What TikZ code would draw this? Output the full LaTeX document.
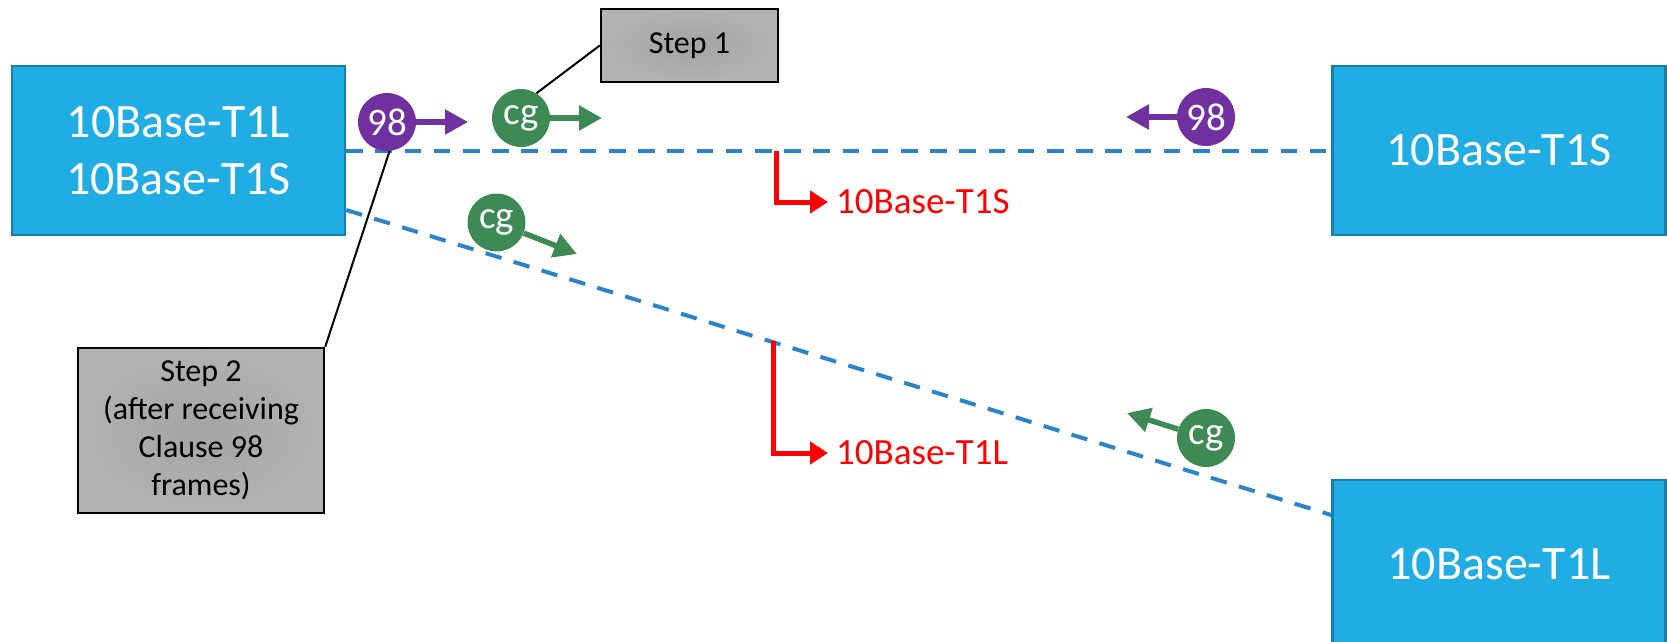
\documentclass[tikz,border=0pt]{standalone}
\usepackage{fontspec}
\setmainfont{Carlito}
\usetikzlibrary{arrows.meta,calc}
\definecolor{boxblue}{RGB}{31,173,228}
\definecolor{boxedge}{RGB}{22,128,172}
\definecolor{dashblue}{RGB}{42,132,204}
\definecolor{cpurple}{RGB}{112,48,160}
\definecolor{cgreen}{RGB}{62,138,84}
\definecolor{cred}{RGB}{255,0,0}
\definecolor{grayin}{RGB}{164,164,164}
\definecolor{grayout}{RGB}{178,178,178}
\begin{document}
\begin{tikzpicture}[x=1pt,y=-1pt,
  phybox/.style={rectangle, fill=boxblue, draw=boxedge, line width=2.5pt,
    minimum width=333pt, minimum height=169pt, inner sep=0pt,
    text=white, font=\fontsize{48}{57}\selectfont, align=center},
  stepbox/.style={rectangle, draw=black, line width=2.5pt, inner sep=0pt,
    inner color=grayin, outer color=grayout,
    font=\fontsize{32}{38}\selectfont, align=center},
  frame/.style={circle, fill=#1, minimum size=58pt, inner sep=0pt,
    text=white, font=\fontsize{39}{42}\selectfont},
  link/.style={draw=dashblue, line width=4pt, dash pattern=on 16.5pt off 12.7pt},
  blockarrow/.style={draw=#1, line width=5.5pt,
    -{Triangle[length=23pt,width=24pt]}},
  redarrow/.style={draw=cred, line width=5pt,
    -{Triangle[length=18pt,width=22pt]}},
  redlabel/.style={text=cred, font=\fontsize{37}{44}\selectfont, inner sep=0pt, anchor=west},
  callout/.style={draw=black, line width=2pt}
]
\useasboundingbox (0,0) rectangle (1667,642);

% PHY boxes
\node[phybox] (L) at (178.5,150.5) {10Base-T1L\\10Base-T1S};
\node[phybox] (R1) at (1499,150.5) {10Base-T1S};
\node[phybox] (R2) at (1499,564.5) {10Base-T1L};

% links
\draw[link] (L.east) -- (R1.west);
\draw[link] ($(L.east)+(0,59.5)$) -- ($(R2.west)+(0,-49.5)$);

% step boxes
\node[stepbox, minimum width=177pt, minimum height=73pt] (S1) at (689.5,45.5) {Step 1};
\node[stepbox, minimum width=246pt, minimum height=165pt] (S2) at (201,430.5)
  {Step 2\\(after receiving\\Clause 98\\frames)};

% frame markers
\node[frame=cpurple] (p1) at (387,122) {98};
\node[frame=cgreen] (g1) at (521,118) {cg};
\node[frame=cpurple] (p2) at (1206,117) {98};
\node[frame=cgreen] (g2) at (496.5,222.5) {cg};
\node[frame=cgreen] (g3) at (1206,438) {cg};

\coordinate (p1t) at (468,122);
\coordinate (g1t) at (602,118);
\coordinate (p2t) at (1126,117);
\coordinate (g2t) at (577,254);
\coordinate (g3t) at (1127,413);

\draw[blockarrow=cpurple] (p1.east) -- (p1t);
\draw[blockarrow=cgreen] (g1.east) -- (g1t);
\draw[blockarrow=cpurple] (p2.west) -- (p2t);
\draw[blockarrow=cgreen] (g2) -- (g2t);
\draw[blockarrow=cgreen] (g3) -- (g3t);

% callout lines
\draw[callout] (S1.west) -- (g1.58);
\draw[callout] (S2.north east) -- (p1.-85);

% red branch arrows
\node[redlabel] (t1) at (836,202) {10Base-T1S};
\node[redlabel] (t2) at (836,453) {10Base-T1L};
\coordinate (a1) at (776,151);
\coordinate (a2) at (773,341);
\draw[redarrow] (a1) |- ([xshift=-8pt]t1.west);
\draw[redarrow] (a2) |- ([xshift=-8pt]t2.west);
\end{tikzpicture}
\end{document}
